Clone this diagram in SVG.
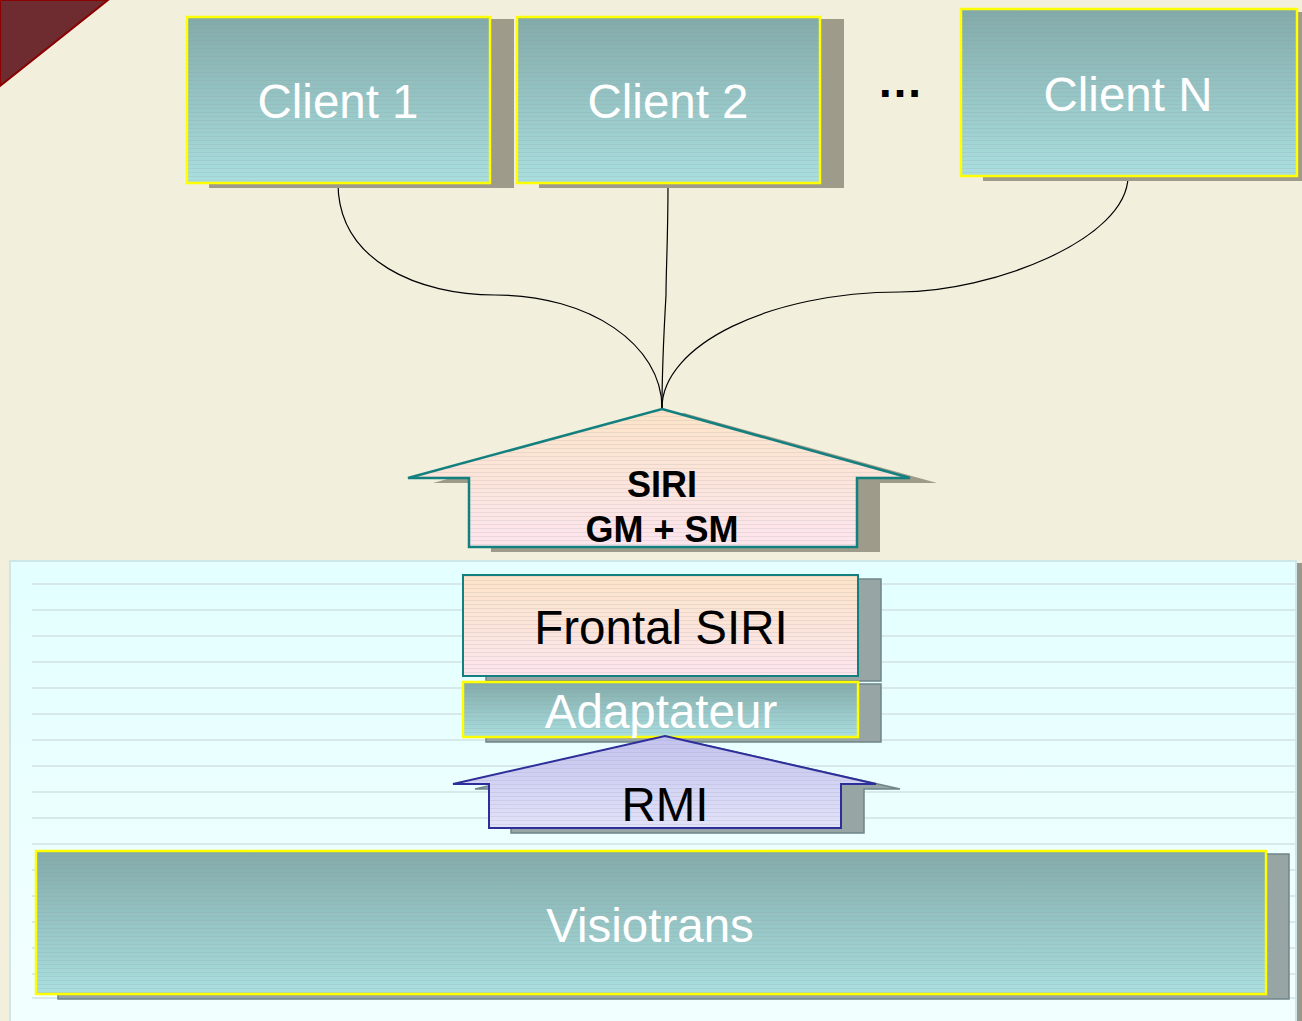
<svg xmlns="http://www.w3.org/2000/svg" width="1302" height="1021" viewBox="0 0 1302 1021">
<defs>
<linearGradient id="teal" x1="0" y1="0" x2="0" y2="1">
<stop offset="0" stop-color="#82AAA9"/>
<stop offset="1" stop-color="#AADFE0"/>
</linearGradient>
<linearGradient id="peach" x1="0" y1="0" x2="0" y2="1">
<stop offset="0" stop-color="#FCE4C8"/>
<stop offset="1" stop-color="#FDE5EE"/>
</linearGradient>
<linearGradient id="lav" x1="0" y1="0" x2="0" y2="1">
<stop offset="0" stop-color="#C2C2EE"/>
<stop offset="1" stop-color="#E2E2FA"/>
</linearGradient>
<linearGradient id="panel" x1="0" y1="0" x2="0" y2="1">
<stop offset="0" stop-color="#E3FFFF"/>
<stop offset="1" stop-color="#F3FFFF"/>
</linearGradient>
<pattern id="stripes" width="8" height="4" patternUnits="userSpaceOnUse">
<rect x="0" y="0" width="8" height="1" fill="#8E9E9A" opacity="0.18"/>
</pattern>
</defs>
<style>
.sh{fill:#9E9B8A}
.shg{fill:#97A5A5;stroke:#6F8588;stroke-width:1.5}
.tealbox{fill:url(#teal);stroke:#FFFF00;stroke-width:2.5}
.str{fill:url(#stripes)}
.wt{font-family:"Liberation Sans",Arial,sans-serif;font-size:47.5px;fill:#FFFFFF;text-anchor:middle}
.bt{font-family:"Liberation Sans",Arial,sans-serif;font-size:47.5px;fill:#000000;text-anchor:middle}
.bb{font-family:"Liberation Sans",Arial,sans-serif;font-size:36px;font-weight:bold;fill:#000000;text-anchor:middle}
.conn{fill:none;stroke:#000000;stroke-width:1.2}
.pl{stroke:#D2E2E2;stroke-width:1.5}
</style>
<rect width="1302" height="1021" fill="#F2EFDC"/>
<polygon points="0,0 108,0 0,86" fill="#6E2C30" stroke="#8B0000" stroke-width="2"/>

<g id="panel-bg">
<rect x="1296" y="563" width="6" height="458" fill="#9A9888"/>
<rect x="10" y="561" width="1286" height="462" fill="url(#panel)" stroke="#CDE6EA" stroke-width="2"/>
<g>
<line class="pl" x1="32" y1="584" x2="1295" y2="584"/>
<line class="pl" x1="32" y1="610" x2="1295" y2="610"/>
<line class="pl" x1="32" y1="636" x2="1295" y2="636"/>
<line class="pl" x1="32" y1="662" x2="1295" y2="662"/>
<line class="pl" x1="32" y1="688" x2="1295" y2="688"/>
<line class="pl" x1="32" y1="714" x2="1295" y2="714"/>
<line class="pl" x1="32" y1="740" x2="1295" y2="740"/>
<line class="pl" x1="32" y1="766" x2="1295" y2="766"/>
<line class="pl" x1="32" y1="792" x2="1295" y2="792"/>
<line class="pl" x1="32" y1="818" x2="1295" y2="818"/>
<line class="pl" x1="32" y1="844" x2="1295" y2="844"/>
<line class="pl" x1="32" y1="870" x2="1295" y2="870"/>
<line class="pl" x1="32" y1="896" x2="1295" y2="896"/>
<line class="pl" x1="32" y1="922" x2="1295" y2="922"/>
<line class="pl" x1="32" y1="948" x2="1295" y2="948"/>
<line class="pl" x1="32" y1="974" x2="1295" y2="974"/>
<line class="pl" x1="32" y1="998" x2="1295" y2="998"/>
</g>
</g>

<g id="connectors">
<path class="conn" d="M338,183 C338,262 420,295 495,295 C590,295 662,345 662,408"/>
<path class="conn" d="M668,183 C668,240 666,270 666,295 C664,330 662,370 662,408"/>
<path class="conn" d="M1128,176 C1128,240 990,292 900,292 C770,292 662,345 662,408"/>
</g>

<g id="client1">
<rect class="sh" x="209" y="19" width="305" height="169"/>
<rect class="tealbox" x="187" y="17" width="303" height="166"/>
<rect class="str" x="188" y="18" width="301" height="164"/>
<text class="wt" x="338" y="118">Client 1</text>
</g>
<g id="client2">
<rect class="sh" x="539" y="19" width="305" height="169"/>
<rect class="tealbox" x="517" y="17" width="303" height="166"/>
<rect class="str" x="518" y="18" width="301" height="164"/>
<text class="wt" x="668" y="118">Client 2</text>
</g>
<g id="ellipsis">
<text x="900" y="97" font-family="'Liberation Sans',Arial,sans-serif" font-size="46" font-weight="bold" text-anchor="middle" fill="#000000">…</text>
</g>
<g id="clientN">
<rect class="sh" x="983" y="12" width="319" height="169"/>
<rect class="tealbox" x="961" y="9" width="336" height="167"/>
<rect class="str" x="962" y="10" width="334" height="165"/>
<text class="wt" x="1128" y="111">Client N</text>
</g>

<g id="siri-arrow">
<polygon points="684,413 937,483 880,483 880,552 491,552 491,483 433,483" class="sh"/>
<polygon points="662,409 910,478 857,478 857,547 469,547 469,478 408,478" fill="url(#peach)" stroke="#138080" stroke-width="2.5" stroke-linejoin="miter"/>
<polygon points="662,410 908,478 856,478 856,546 470,546 470,478 410,478" class="str"/>
<text class="bb" x="662" y="497">SIRI</text>
<text class="bb" x="662" y="542">GM + SM</text>
</g>

<g id="frontal">
<rect class="shg" x="486" y="579" width="395" height="102"/>
<rect x="463" y="575" width="395" height="101" fill="url(#peach)" stroke="#138080" stroke-width="2"/>
<rect class="str" x="464" y="576" width="393" height="99"/>
<text class="bt" x="661" y="644">Frontal SIRI</text>
</g>

<g id="adaptateur">
<rect class="shg" x="486" y="684" width="395" height="58"/>
<rect class="tealbox" x="463" y="682" width="395" height="55"/>
<rect class="str" x="464" y="683" width="393" height="53"/>
<text class="wt" x="661" y="728">Adaptateur</text>
</g>

<g id="rmi-arrow">
<polygon points="687,741 900,789 864,789 864,833 511,833 511,789 475,789" class="shg"/>
<polygon points="665,736 876,784 841,784 841,828 489,828 489,784 453,784" fill="url(#lav)" stroke="#2E2E9A" stroke-width="2"/>
<polygon points="665,737 874,784 840,784 840,827 490,827 490,784 455,784" class="str"/>
<text class="bt" x="665" y="821">RMI</text>
</g>

<g id="visiotrans">
<rect class="shg" x="58" y="854" width="1231" height="145"/>
<rect class="tealbox" x="36" y="851" width="1230" height="143"/>
<rect class="str" x="37" y="852" width="1228" height="141"/>
<text class="wt" x="650" y="942">Visiotrans</text>
</g>
</svg>
